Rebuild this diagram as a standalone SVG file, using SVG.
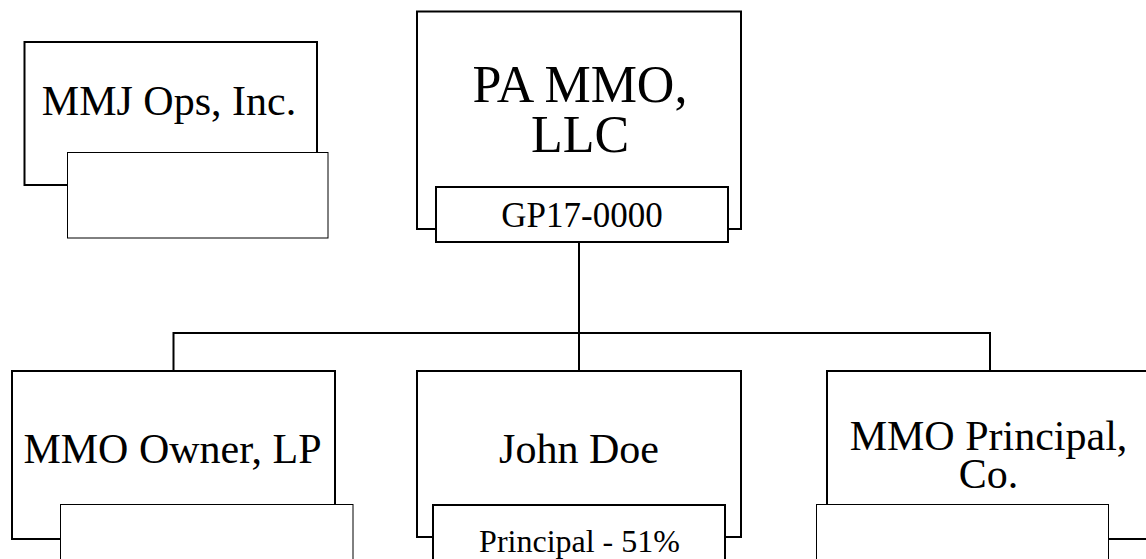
<svg xmlns="http://www.w3.org/2000/svg" width="1146" height="559" viewBox="0 0 1146 559">
<style>
.outer{fill:#fff;stroke:#000;stroke-width:2}
.inner{fill:#fff;stroke:#000;stroke-width:1}
.inner2{fill:#fff;stroke:#000;stroke-width:2}
.conn{fill:none;stroke:#000;stroke-width:2}
text{font-family:"Liberation Serif","Times New Roman",serif;fill:#000;text-anchor:middle}
.big{font-size:42px}
.huge{font-size:52px}
</style>
<rect width="1146" height="559" fill="#fff"/>
<g id="connectors">
<path class="conn" d="M579,242 V371 M173.5,371 V333 H990 V371"/>
</g>
<g id="mmj-ops">
<rect class="outer" x="24.5" y="42" width="292.5" height="143"/>
<text class="big" x="169" y="115">MMJ Ops, Inc.</text>
<rect class="inner" x="67.5" y="152.5" width="260.5" height="85.5"/>
</g>
<g id="pa-mmo">
<rect class="outer" x="417" y="11.5" width="324" height="217.5"/>
<text class="huge" x="580" y="102"><tspan x="580" y="102">PA MMO,</tspan><tspan x="580" y="152">LLC</tspan></text>
<rect class="inner2" x="436" y="187" width="292" height="55"/>
<text x="582" y="227" style="font-size:35px">GP17-0000</text>
</g>
<g id="mmo-owner">
<rect class="outer" x="12" y="371" width="323" height="168"/>
<text class="big" x="172.5" y="463">MMO Owner, LP</text>
<rect class="inner" x="60.5" y="504.5" width="292.5" height="70"/>
</g>
<g id="john-doe">
<rect class="outer" x="417" y="371" width="324" height="166"/>
<text class="big" x="579" y="463">John Doe</text>
<rect class="inner2" x="433" y="505" width="292" height="70"/>
<text x="579.5" y="552" style="font-size:32px">Principal - 51%</text>
</g>
<g id="mmo-principal">
<rect class="outer" x="827" y="371" width="324" height="168"/>
<text class="big" x="988.5" y="450"><tspan x="988.5" y="450">MMO Principal,</tspan><tspan x="988.5" y="488">Co.</tspan></text>
<rect class="inner" x="816.5" y="504.5" width="292" height="70"/>
</g>
</svg>
